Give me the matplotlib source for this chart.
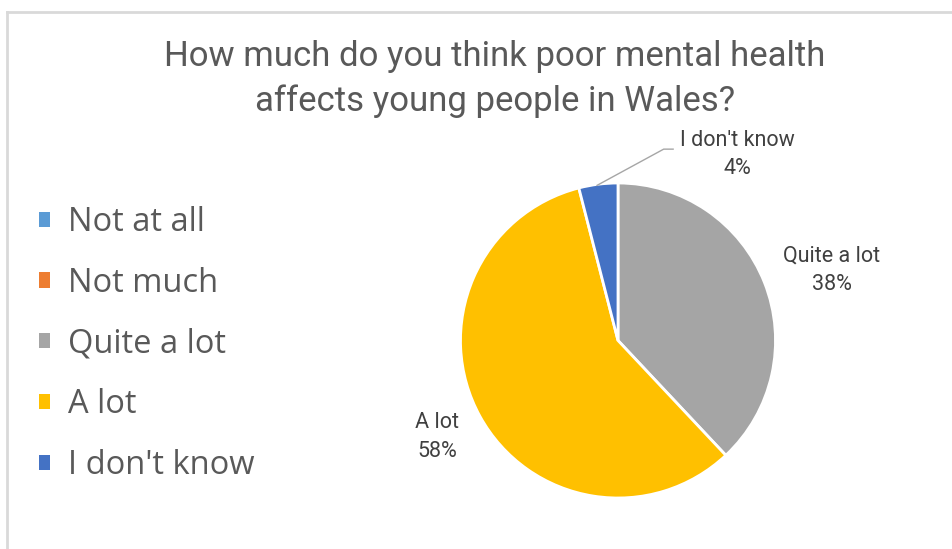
import matplotlib
matplotlib.use("Agg")
import matplotlib.pyplot as plt
from matplotlib.patches import Patch
from matplotlib.lines import Line2D

categories = ["Not at all", "Not much", "Quite a lot", "A lot", "I don't know"]
values = [0, 0, 38, 58, 4]
colors = ["#5B9BD5", "#ED7D31", "#A5A5A5", "#FFC000", "#4472C4"]
title = "How much do you think poor mental health\naffects young people in Wales?"

W, H = 952, 549
fig = plt.figure(figsize=(W / 100, H / 100), dpi=100)
fig.patch.set_facecolor("white")

# light frame (top and left edges visible)
fig.add_artist(Line2D([7 / W, 7 / W], [0, 1 - 12 / H], transform=fig.transFigure,
                      color="#D9D9D9", lw=2))
fig.add_artist(Line2D([7 / W, 1], [1 - 12 / H, 1 - 12 / H], transform=fig.transFigure,
                      color="#D9D9D9", lw=2))

cx, cy, r = 618, 340.5, 157.5
box = 175
ax = fig.add_axes([(cx - box) / W, (H - cy - box) / H, 2 * box / W, 2 * box / H])
lim = box / r

wedges, _ = ax.pie(values, colors=colors, startangle=90, counterclock=False,
                   radius=1.0, frame=True,
                   wedgeprops=dict(edgecolor="white", linewidth=2))
ax.set_xlim(-lim, lim)
ax.set_ylim(-lim, lim)
ax.set_aspect("equal")
ax.axis("off")

lab_font = dict(family=["Roboto", "DejaVu Sans"], fontsize=15.5,
                color="#404040", ha="center", va="center", linespacing=1.45)
total = sum(values)
label_pos = {"Quite a lot": (1.359, 0.445), "A lot": (-1.149, -0.613), "I don't know": (0.756, 1.181)}
for cat, v in zip(categories, values):
    if v == 0:
        continue
    x, y = label_pos[cat]
    ax.text(x, y, f"{cat}\n{round(100 * v / total)}%", **lab_font)

# leader line for small slice
ax.plot([-0.133, 0.29, 0.35], [0.985, 1.215, 1.215], color="#A6A6A6", lw=1, clip_on=False)

fig.text(495 / W, 1 - 79 / H, title, ha="center", va="center",
         family=["Roboto", "DejaVu Sans"], fontsize=25,
         color="#595959", linespacing=1.4)

handles = [Patch(facecolor=c, edgecolor="none") for c in colors]
leg = fig.legend(handles, categories, loc="center left", bbox_to_anchor=(39 / W, 1 - 344 / H),
                 frameon=False, handlelength=0.34, handleheight=0.34, handletextpad=0.55,
                 labelspacing=0.85, borderaxespad=0, borderpad=0,
                 prop=dict(family="Open Sans", size=23.5))
for t in leg.get_texts():
    t.set_color("#595959")

fig.savefig("out.png", dpi=100)
